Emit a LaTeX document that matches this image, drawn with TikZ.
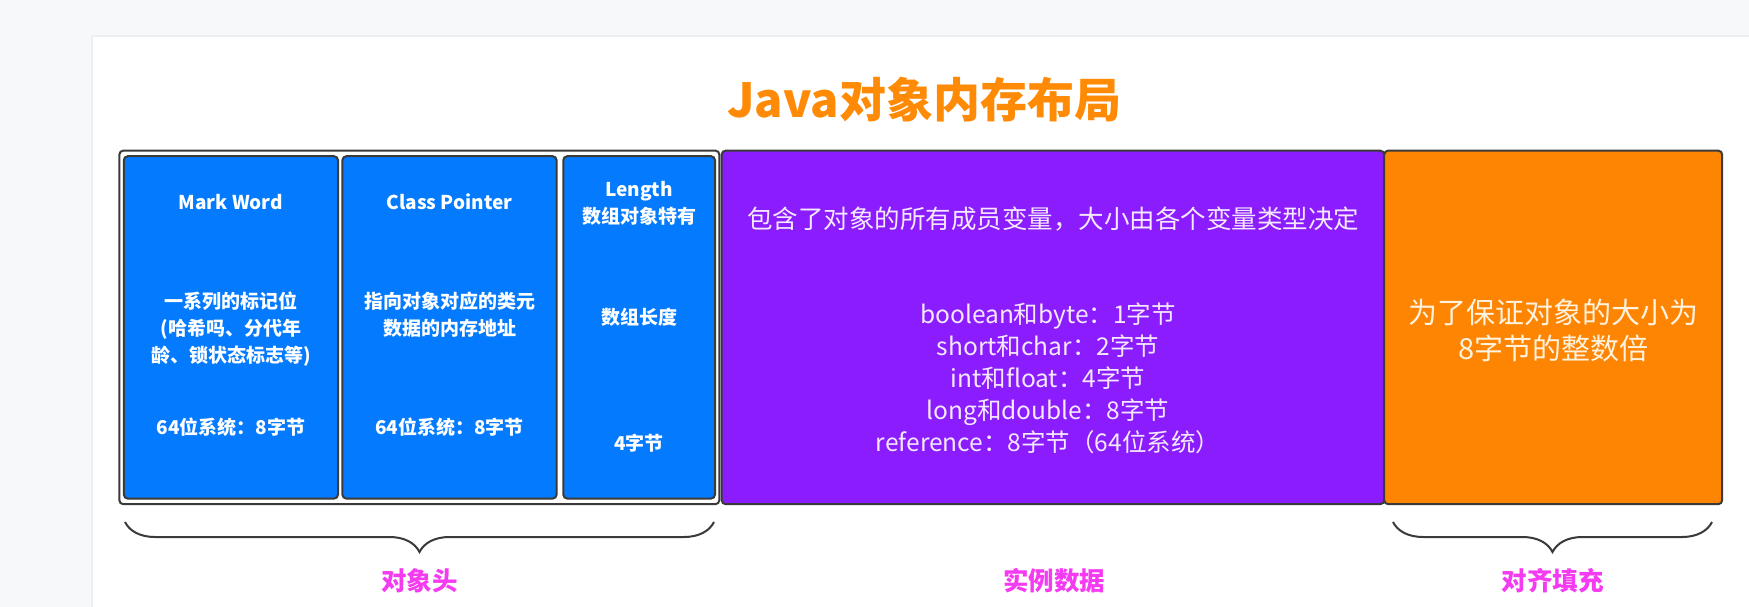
\documentclass[tikz,border=0pt]{standalone}
\usepackage{fontspec}
\setmainfont{Noto Sans CJK SC}
\usetikzlibrary{decorations.pathreplacing}
\definecolor{bgcol}{HTML}{F7F8FA}
\definecolor{panelline}{HTML}{EEEFF2}
\definecolor{jblue}{HTML}{047BFE}
\definecolor{jpurple}{HTML}{8A1CFE}
\definecolor{jorange}{HTML}{FE8502}
\definecolor{jtitle}{HTML}{FF8A05}
\definecolor{jmag}{HTML}{F53BF2}
\definecolor{jborder}{HTML}{3A3A3A}
\definecolor{ptext}{HTML}{F6E8FF}
\definecolor{otext}{HTML}{FFF2DF}
\tikzset{
  cell/.style={draw=jborder, line width=2pt, rounded corners=4pt, inner sep=0pt},
  btxt/.style={text=white, font=\bfseries\fontsize{19}{27}\selectfont, align=center, inner sep=0pt},
  ptxt/.style={text=ptext, font=\fontsize{24.5}{32}\selectfont, align=center, inner sep=0pt},
  htxt/.style={text=ptext, font=\fontsize{25.5}{32}\selectfont, align=center, inner sep=0pt},
  otxt/.style={text=otext, font=\fontsize{29}{36}\selectfont, align=center, inner sep=0pt},
  lbl/.style={text=jmag, font=\bfseries\fontsize{25.5}{28}\selectfont, inner sep=0pt},
  bracestyle/.style={draw=jborder, line width=2pt, decorate, decoration={brace, amplitude=30pt}},
}
\begin{document}
\begin{tikzpicture}[x=1pt,y=-1pt]
\useasboundingbox (0,0) rectangle (1749,607);
\fill[bgcol] (0,0) rectangle (1749,607);
\fill[white] (92,36) rectangle (1749,607);
\draw[panelline, line width=1.5pt] (92,607) -- (92,36) -- (1749,36);

% title
\node[text=jtitle, font=\bfseries\fontsize{47}{50}\selectfont, inner sep=0pt] (title) at (924,100) {Java对象内存布局};

% object header outer frame
\node[cell, fill=white, minimum width=600pt, minimum height=353.6pt] (hdr) at (419.35,327.4) {};
% blue cells
\node[cell, fill=jblue, minimum width=214.2pt, minimum height=342.4pt] (mw) at (230.9,327.4) {};
\node[cell, fill=jblue, minimum width=214.2pt, minimum height=342.4pt] (cp) at (449.5,327.4) {};
\node[cell, fill=jblue, minimum width=151.7pt, minimum height=342.4pt] (ln) at (639.15,327.4) {};
% purple and orange
\node[cell, fill=jpurple, minimum width=662.5pt, minimum height=353.6pt] (inst) at (1052.95,327.4) {};
\node[cell, fill=jorange, minimum width=338pt, minimum height=353.6pt] (pad) at (1553.2,327.4) {};

% mark word texts
\node[btxt] (mwT) at (230.9,202) {Mark Word};
\node[btxt] (mwD) at (230.9,329) {一系列的标记位\\(哈希吗、分代年\\龄、锁状态标志等)};
\node[btxt] (mwS) at (230.9,427) {64位系统：8字节};
% class pointer texts
\node[btxt] (cpT) at (449.5,202) {Class Pointer};
\node[btxt] (cpD) at (449.5,315) {指向对象对应的类元\\数据的内存地址};
\node[btxt] (cpS) at (449.5,427) {64位系统：8字节};
% length texts
\node[btxt] (lnT) at (639.15,203) {Length\\数组对象特有};
\node[btxt] (lnD) at (639.15,317) {数组长度};
\node[btxt] (lnS) at (639.15,443) {4字节};

% instance data texts
\node[htxt] (instH) at (1053,219) {包含了对象的所有成员变量，大小由各个变量类型决定};
\node[ptxt] (instL) at (1048,378) {boolean和byte：1字节\\short和char：2字节\\int和float：4字节\\long和double：8字节\\reference：8字节（64位系统）};

% padding texts
\node[otxt] (padT) at (1553.2,330) {为了保证对象的大小为\\8字节的整数倍};

% braces
\coordinate (b1r) at (714,522);
\coordinate (b1l) at (125,522);
\coordinate (b2r) at (1712,522);
\coordinate (b2l) at (1393,522);
\draw[bracestyle] (b1r) -- (b1l);
\draw[bracestyle] (b2r) -- (b2l);

% labels
\node[lbl] (lh) at (419.5,581) {对象头};
\node[lbl] (li) at (1054,581) {实例数据};
\node[lbl] (lp) at (1552.5,581) {对齐填充};
\end{tikzpicture}
\end{document}
